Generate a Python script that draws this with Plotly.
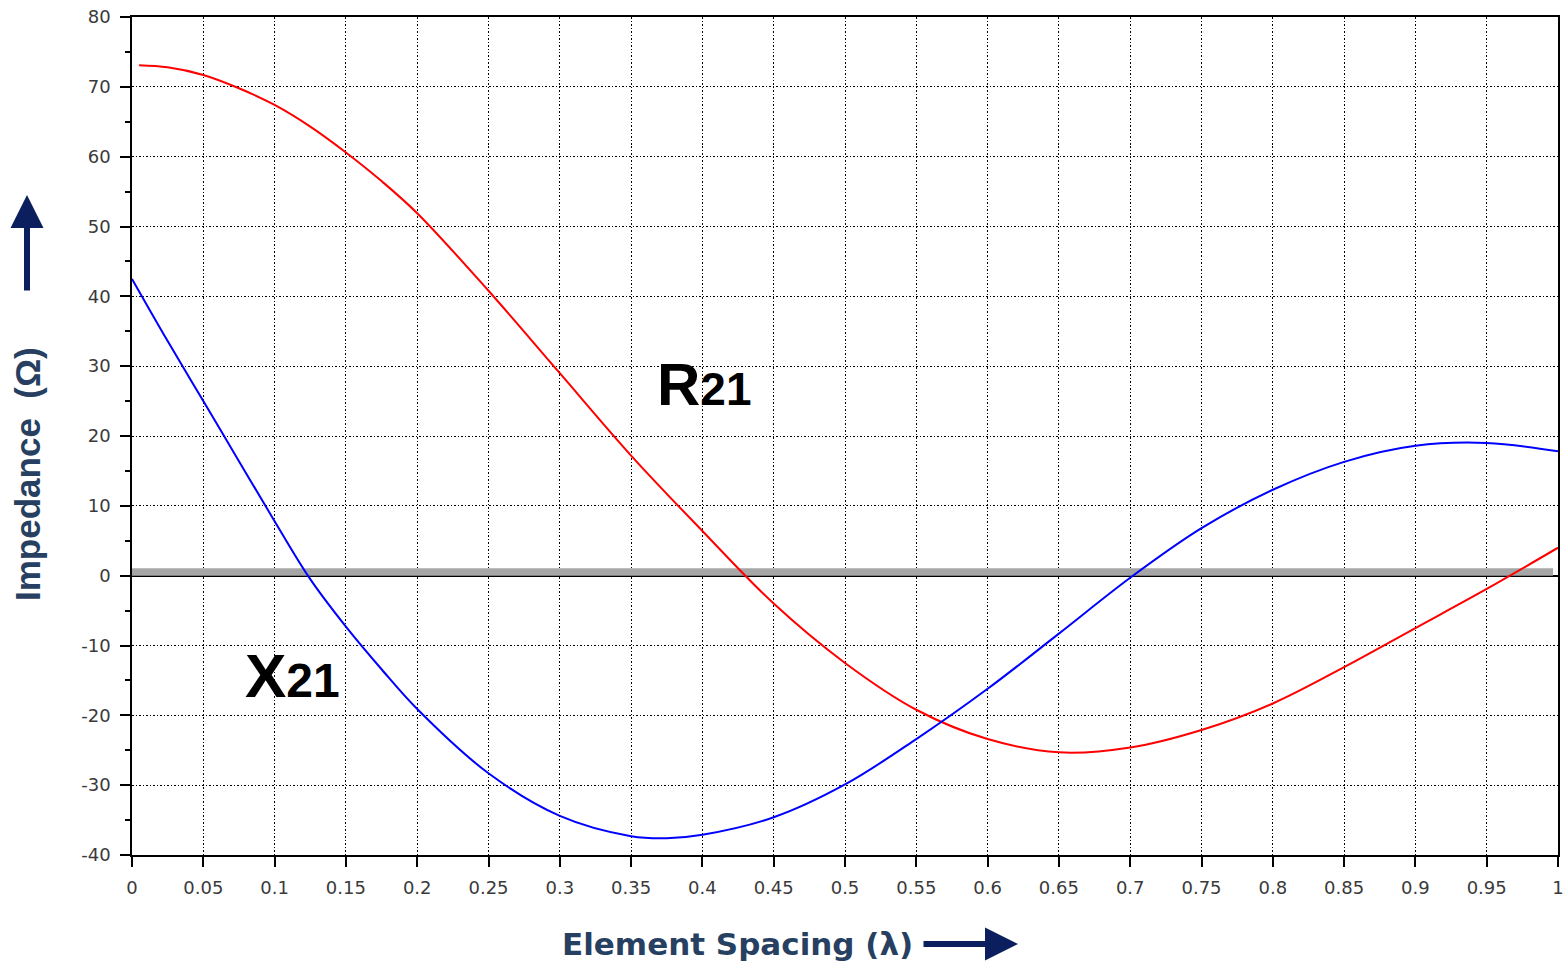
import plotly.graph_objects as go

# Element spacing (wavelengths)
spacing_r = [0.005, 0.025, 0.05, 0.075, 0.1, 0.125, 0.15, 0.175, 0.2, 0.25, 0.3, 0.35, 0.4,
             0.45, 0.5, 0.55, 0.6, 0.65, 0.7, 0.75, 0.8, 0.85, 0.9, 0.95, 1.0]
r21 = [73.1, 72.8, 71.7, 69.8, 67.4, 64.3, 60.6, 56.5, 51.9, 40.8, 29.0, 17.2, 6.4,
       -4.0, -12.5, -19.2, -23.4, -25.3, -24.6, -22.1, -18.3, -13.1, -7.5, -1.9, 4.0]

spacing_x = [0.0, 0.025, 0.05, 0.075, 0.1, 0.125, 0.15, 0.175, 0.2, 0.25, 0.3, 0.35, 0.375, 0.4,
             0.45, 0.5, 0.55, 0.6, 0.65, 0.7, 0.75, 0.8, 0.85, 0.9, 0.95, 1.0]
x21 = [42.5, 33.6, 25.0, 16.4, 7.8, -0.5, -7.3, -13.4, -19.1, -28.3, -34.4, -37.3, -37.6, -37.1,
       -34.6, -29.9, -23.4, -16.2, -8.3, -0.3, 6.8, 12.3, 16.3, 18.6, 19.0, 17.8]

x_ticks = [0, 0.05, 0.1, 0.15, 0.2, 0.25, 0.3, 0.35, 0.4, 0.45, 0.5, 0.55, 0.6, 0.65,
           0.7, 0.75, 0.8, 0.85, 0.9, 0.95, 1]
x_tick_text = ["0", "0.05", "0.1", "0.15", "0.2", "0.25", "0.3", "0.35", "0.4", "0.45", "0.5",
               "0.55", "0.6", "0.65", "0.7", "0.75", "0.8", "0.85", "0.9", "0.95", "1"]
y_ticks = [-40, -30, -20, -10, 0, 10, 20, 30, 40, 50, 60, 70, 80]
y_tick_text = ["-40", "-30", "-20", "-10", "0", "10", "20", "30", "40", "50", "60", "70", "80"]

NAVY_TEXT = "#273f61"
NAVY_ARROW = "#0b1f5e"

fig = go.Figure()
fig.add_trace(go.Scatter(x=spacing_r, y=r21, mode="lines",
                         line=dict(color="#ff0000", width=2, shape="spline", smoothing=1.0),
                         name="R21", showlegend=False, hoverinfo="skip"))
fig.add_trace(go.Scatter(x=spacing_x, y=x21, mode="lines",
                         line=dict(color="#0000ff", width=2, shape="spline", smoothing=1.0),
                         name="X21", showlegend=False, hoverinfo="skip"))

# gray zero band
fig.add_shape(type="rect", xref="x", yref="y", x0=0, x1=0.9965, y0=0, y1=1.05,
              fillcolor="#a6a6a6", line=dict(width=0), layer="between")

tickfont = dict(family="DejaVu Sans", size=18, color="#3a3a3a")
fig.update_xaxes(range=[0, 1], tickvals=x_ticks, ticktext=x_tick_text, ticks="outside", ticklen=10,
                 tickwidth=1.5, tickcolor="black", showline=True, linecolor="black", linewidth=1.5,
                 mirror=True, showgrid=True, gridcolor="black", gridwidth=1.3, griddash="1.5px,2px",
                 zeroline=False, tickfont=tickfont, ticklabelstandoff=6)
fig.update_yaxes(range=[-40, 80], tickvals=y_ticks, ticktext=y_tick_text, ticks="outside", ticklen=10,
                 tickwidth=1.5, tickcolor="black", showline=True, linecolor="black", linewidth=1.5,
                 mirror=True, showgrid=True, gridcolor="black", gridwidth=1.3, griddash="1.5px,2px",
                 zeroline=True, zerolinecolor="black", zerolinewidth=1.5, tickfont=tickfont,
                 ticklabelstandoff=6,
                 minor=dict(dtick=5, tick0=0, ticks="outside", ticklen=5, tickwidth=1.5,
                            tickcolor="black", showgrid=False))

W, H = 1566, 966
L, R, T, B = 132, 8, 17, 111
pw, ph = W - L - R, H - T - B

def px(xp):
    return (xp - L) / pw

def py(yp):
    return (H - B - yp) / ph

annotations = [
    dict(xref="paper", yref="paper", x=px(28), y=py(474), xanchor="center", yanchor="middle",
         text="<b>Impedance  (Ω)</b>", textangle=-90, showarrow=False,
         font=dict(family="Liberation Sans", size=35, color=NAVY_TEXT)),
    dict(xref="paper", yref="paper", x=px(737), y=py(944), xanchor="center", yanchor="middle",
         text="<b>Element Spacing (λ)</b>", showarrow=False,
         font=dict(family="DejaVu Sans", size=31, color=NAVY_TEXT)),
    dict(xref="paper", yref="paper", x=px(27), y=py(195), ax=0, ay=97, axref="pixel", ayref="pixel",
         text="", showarrow=True, arrowhead=2, arrowsize=1.1, arrowwidth=6, arrowcolor=NAVY_ARROW),
    dict(xref="paper", yref="paper", x=px(1018), y=py(944), ax=-96, ay=0, axref="pixel", ayref="pixel",
         text="", showarrow=True, arrowhead=2, arrowsize=1.1, arrowwidth=6, arrowcolor=NAVY_ARROW),
    dict(xref="paper", yref="paper", x=px(655), y=py(384), xanchor="left", yanchor="middle",
         text="<b>R<span style='font-size:46px'>21</span></b>", showarrow=False,
         font=dict(family="Liberation Sans", size=60, color="black")),
    dict(xref="paper", yref="paper", x=px(243), y=py(675), xanchor="left", yanchor="middle",
         text="<b>X<span style='font-size:48px'>21</span></b>", showarrow=False,
         font=dict(family="Liberation Sans", size=62, color="black")),
]

fig.update_layout(width=W, height=H, margin=dict(l=L, r=R, t=T, b=B, autoexpand=False),
                  paper_bgcolor="white", plot_bgcolor="white", annotations=annotations,
                  showlegend=False)

fig.write_html("out.html")
